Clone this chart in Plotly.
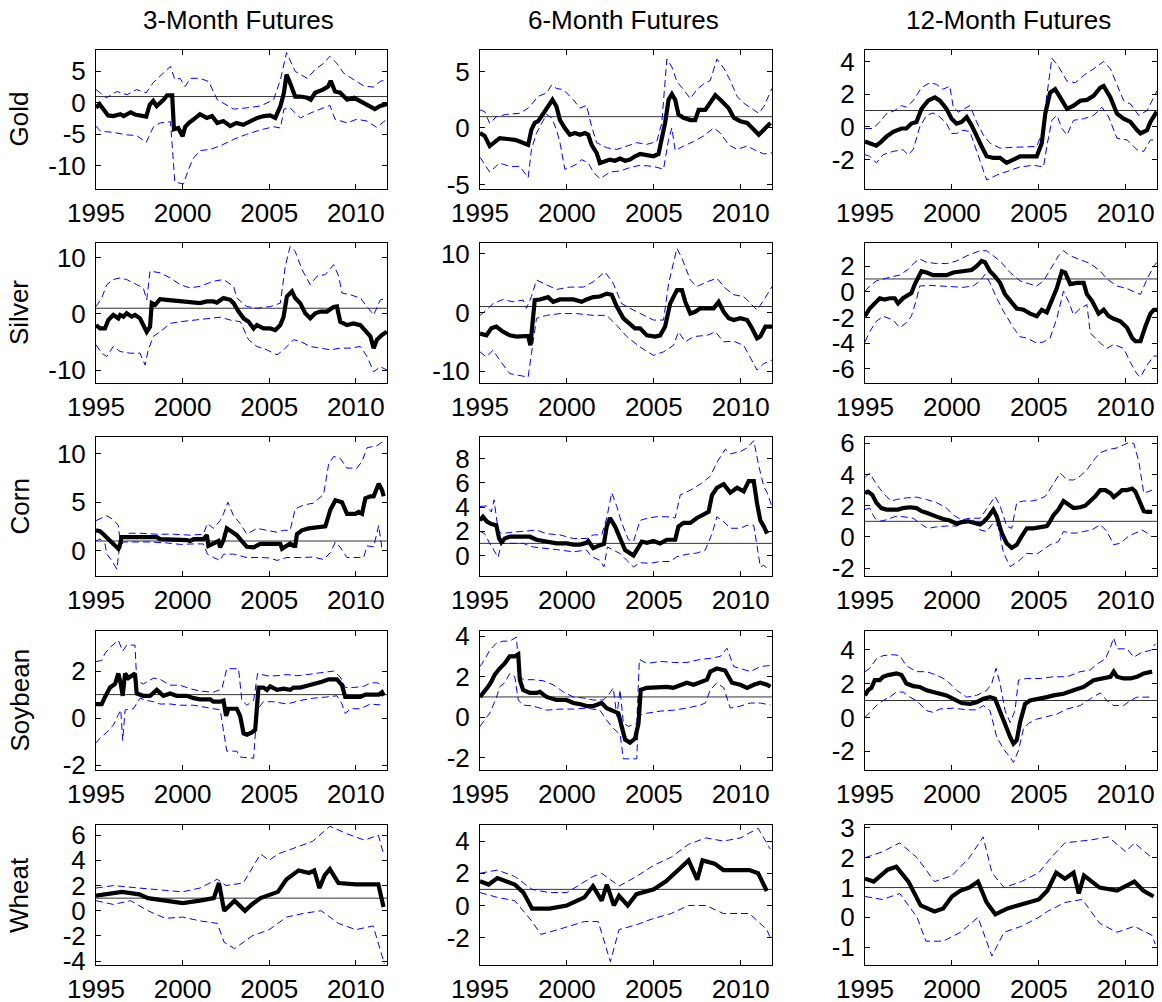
import plotly.graph_objects as go

X_RANGE = [1995, 2011.8]
X_TICKS = [1995, 2000, 2005, 2010]
REF_LEVEL = 1.0
COLUMNS = ["3-Month Futures", "6-Month Futures", "12-Month Futures"]
ROWS = ["Gold", "Silver", "Corn", "Soybean", "Wheat"]

# ---------------- Gold ----------------
GOLD_3M_EST = [(1995.0,-0.8),(1995.2,-0.2),(1995.7,-2.0),(1996.0,-2.1),(1996.4,-1.8),(1996.6,-2.1),(1997.0,-1.5),(1997.3,-1.9),(1997.9,-2.2),(1998.1,-0.3),(1998.3,0.3),(1998.5,-0.5),(1998.9,0.5),(1999.1,1.2),(1999.4,1.2),(1999.5,-4.2),(1999.75,-4.0),(2000.0,-5.3),(2000.15,-3.8),(2000.35,-3.2),(2000.6,-2.7),(2001.0,-1.8),(2001.4,-2.4),(2001.7,-2.1),(2002.0,-3.2),(2002.35,-2.9),(2002.75,-3.7),(2003.1,-3.2),(2003.5,-3.5),(2003.9,-3.0),(2004.3,-2.4),(2004.7,-2.1),(2005.05,-2.0),(2005.35,-2.4),(2005.65,-0.5),(2005.85,1.6),(2006.0,4.5),(2006.2,3.2),(2006.5,1.0),(2006.8,1.0),(2007.2,0.8),(2007.4,0.5),(2007.65,1.6),(2008.1,2.1),(2008.4,2.6),(2008.55,3.5),(2008.8,1.8),(2009.1,1.6),(2009.5,0.5),(2009.9,0.8),(2010.25,0.3),(2010.65,-0.3),(2011.1,-1.0),(2011.4,-0.5),(2011.8,-0.2)]
GOLD_3M_HI = [(1995.0,2.1),(1995.6,0.8),(1996.2,1.8),(1996.8,1.3),(1997.35,2.1),(1997.9,1.6),(1998.3,3.2),(1998.9,4.7),(1999.3,5.8),(1999.55,3.7),(1999.85,3.9),(2000.15,2.6),(2000.45,3.9),(2001.0,3.9),(2001.5,3.4),(2002.0,0.5),(2002.55,-0.3),(2002.95,-1.0),(2003.7,-0.8),(2004.5,-0.5),(2005.25,0.5),(2005.65,3.7),(2006.0,8.0),(2006.3,6.3),(2006.5,5.0),(2006.8,4.5),(2007.2,3.9),(2007.65,5.3),(2008.15,6.3),(2008.5,7.4),(2008.9,6.3),(2009.3,4.7),(2009.9,3.7),(2010.45,2.7),(2011.0,2.5),(2011.4,3.4),(2011.8,3.7)]
GOLD_3M_LO = [(1995.0,-3.7),(1995.25,-4.5),(1996.0,-4.7),(1996.8,-5.1),(1997.35,-5.2),(1997.9,-6.3),(1998.3,-3.9),(1998.7,-3.2),(1999.3,-3.0),(1999.45,-8.4),(1999.55,-12.6),(2000.05,-12.9),(2000.35,-10.5),(2000.6,-8.9),(2001.0,-7.6),(2001.6,-7.4),(2002.2,-6.8),(2002.95,-5.8),(2003.7,-5.0),(2004.5,-4.3),(2005.25,-3.8),(2005.65,-4.0),(2005.85,-1.0),(2006.2,-0.8),(2006.5,-1.6),(2006.8,-2.4),(2007.4,-1.6),(2007.95,-1.0),(2008.5,-0.4),(2008.8,-2.6),(2009.5,-3.2),(2010.05,-2.6),(2010.65,-2.9),(2011.2,-3.9),(2011.8,-2.6)]

GOLD_6M_EST = [(1995.0,-0.45),(1995.27,-0.7),(1995.56,-1.6),(1995.85,-1.3),(1996.13,-0.9),(1996.71,-1.0),(1997.0,-1.05),(1997.29,-1.2),(1997.77,-1.5),(1997.96,-0.15),(1998.15,0.45),(1998.35,0.6),(1998.63,1.3),(1998.92,1.9),(1999.17,2.5),(1999.4,1.9),(1999.6,0.7),(1999.88,0.0),(2000.17,-0.6),(2000.46,-0.45),(2000.75,-0.6),(2001.04,-0.45),(2001.23,-0.6),(2001.42,-1.5),(2001.71,-2.2),(2001.9,-3.1),(2002.19,-2.9),(2002.48,-2.8),(2002.77,-2.9),(2003.06,-2.7),(2003.35,-2.9),(2003.63,-2.8),(2003.92,-2.5),(2004.21,-2.3),(2004.6,-2.4),(2004.98,-2.5),(2005.27,-2.3),(2005.46,-1.0),(2005.65,0.45),(2005.85,2.5),(2006.04,3.0),(2006.23,2.5),(2006.42,1.2),(2006.71,0.9),(2007.1,0.7),(2007.38,0.7),(2007.58,1.6),(2007.96,1.6),(2008.25,2.2),(2008.54,2.9),(2008.83,2.5),(2009.31,1.75),(2009.6,0.9),(2009.98,0.6),(2010.37,0.45),(2010.75,-0.15),(2011.04,-0.6),(2011.33,-0.15),(2011.71,0.45)]
GOLD_6M_HI = [(1995.0,1.6),(1995.27,1.45),(1995.56,0.4),(1995.94,1.0),(1996.52,1.2),(1997.29,1.3),(1997.77,1.75),(1998.35,2.8),(1998.83,3.1),(1999.12,3.8),(1999.4,3.5),(1999.79,3.4),(2000.37,2.5),(2000.75,1.75),(2001.13,2.0),(2001.42,0.15),(2001.71,-1.3),(2002.29,-1.75),(2002.87,-1.9),(2003.44,-1.6),(2004.02,-1.3),(2004.6,-1.45),(2005.17,-1.2),(2005.46,0.45),(2005.75,6.1),(2006.04,5.4),(2006.33,4.1),(2006.71,3.4),(2007.1,2.6),(2007.48,3.4),(2007.87,3.9),(2008.25,4.2),(2008.63,6.1),(2009.02,5.3),(2009.4,4.2),(2009.79,2.8),(2010.17,2.2),(2010.75,1.6),(2011.04,1.3),(2011.33,1.9),(2011.8,3.5)]
GOLD_6M_LO = [(1995.0,-2.6),(1995.56,-3.9),(1996.13,-3.1),(1996.71,-3.4),(1997.29,-3.4),(1997.77,-4.4),(1997.96,-1.9),(1998.25,-0.45),(1998.83,1.2),(1999.12,0.9),(1999.4,-0.15),(1999.6,-1.3),(1999.88,-3.65),(2000.17,-3.5),(2000.56,-3.2),(2000.85,-2.8),(2001.23,-3.1),(2001.52,-3.9),(2001.9,-4.5),(2002.48,-3.9),(2003.06,-3.8),(2003.63,-3.5),(2004.21,-3.3),(2004.98,-3.4),(2005.56,-3.65),(2005.85,-1.0),(2006.04,0.0),(2006.23,-2.0),(2006.71,-1.6),(2007.29,-1.2),(2007.87,-0.7),(2008.44,0.0),(2008.83,-0.45),(2009.31,-1.5),(2009.79,-1.9),(2010.37,-1.6),(2010.75,-1.9),(2011.33,-2.3),(2011.8,-2.2)]

GOLD_12M_EST = [(1995.0,-0.9),(1995.27,-1.0),(1995.65,-1.15),(1995.94,-0.9),(1996.23,-0.6),(1996.62,-0.3),(1997.1,-0.1),(1997.38,-0.1),(1997.67,0.2),(1997.96,0.3),(1998.25,1.1),(1998.63,1.6),(1999.02,1.8),(1999.31,1.6),(1999.69,1.1),(1999.98,0.5),(2000.27,0.2),(2000.56,0.3),(2000.85,0.6),(2001.13,0.1),(2001.42,-0.6),(2001.71,-1.2),(2002.0,-1.8),(2002.38,-1.9),(2002.77,-1.9),(2003.15,-2.2),(2003.54,-2.0),(2003.92,-1.8),(2004.31,-1.8),(2004.88,-1.8),(2005.17,-1.0),(2005.37,0.8),(2005.65,2.1),(2005.94,2.3),(2006.23,1.8),(2006.62,1.1),(2007.0,1.3),(2007.38,1.6),(2007.77,1.65),(2008.15,1.9),(2008.54,2.4),(2008.73,2.5),(2009.12,1.8),(2009.5,0.8),(2009.88,0.5),(2010.27,0.3),(2010.65,-0.2),(2010.85,-0.4),(2011.23,-0.2),(2011.42,0.3),(2011.71,0.8),(2011.8,0.7)]
GOLD_12M_HI = [(1995.0,-0.1),(1995.46,-0.1),(1995.85,0.3),(1996.23,0.8),(1996.71,1.0),(1997.1,1.3),(1997.38,1.2),(1997.77,1.6),(1998.25,2.4),(1998.73,2.7),(1999.12,2.6),(1999.5,2.3),(1999.88,2.5),(2000.08,1.2),(2000.37,0.9),(2000.75,1.1),(2001.04,1.3),(2001.42,0.3),(2001.81,-0.5),(2002.19,-1.0),(2002.77,-1.3),(2003.54,-1.25),(2004.31,-1.2),(2004.88,-1.2),(2005.17,-0.4),(2005.46,2.0),(2005.75,4.2),(2006.13,3.7),(2006.62,2.8),(2007.1,2.7),(2007.58,3.15),(2008.15,3.55),(2008.73,4.0),(2009.12,3.55),(2009.5,2.6),(2009.88,1.6),(2010.27,1.4),(2010.75,0.7),(2011.23,1.0),(2011.8,2.2)]
GOLD_12M_LO = [(1995.0,-1.7),(1995.27,-1.8),(1995.65,-2.2),(1996.04,-1.7),(1996.62,-1.5),(1997.19,-1.4),(1997.48,-1.7),(1997.77,-1.4),(1998.15,0.0),(1998.54,0.7),(1998.92,0.85),(1999.31,0.6),(1999.69,0.2),(1999.98,-0.4),(2000.27,-0.4),(2000.65,-0.2),(2001.04,-0.3),(2001.33,-1.2),(2001.62,-2.2),(2002.0,-3.25),(2002.58,-2.95),(2003.15,-2.75),(2003.92,-2.45),(2004.69,-2.35),(2005.27,-2.45),(2005.46,-1.2),(2005.75,0.4),(2006.04,0.7),(2006.33,-0.1),(2006.62,-0.5),(2007.0,0.4),(2007.58,0.5),(2008.15,0.7),(2008.63,1.2),(2009.02,0.6),(2009.5,-0.7),(2010.08,-0.8),(2010.65,-1.4),(2011.04,-1.5),(2011.42,-0.8),(2011.8,-0.8)]

# ---------------- Silver ----------------
SILVER_3M_EST = [(1995.0,-2.0),(1995.23,-2.6),(1995.52,-2.6),(1995.71,-1.1),(1996.0,-0.2),(1996.29,-0.8),(1996.39,-0.2),(1996.58,-0.5),(1996.77,0.1),(1997.06,-0.5),(1997.25,-0.2),(1997.54,-0.8),(1997.83,-2.6),(1997.93,-3.2),(1998.12,-2.3),(1998.22,1.9),(1998.41,1.6),(1998.7,2.6),(1999.08,2.5),(1999.66,2.3),(2000.05,2.2),(2000.63,1.9),(2001.01,1.9),(2001.4,2.2),(2001.78,2.2),(2001.98,2.0),(2002.36,2.8),(2002.75,2.5),(2002.94,1.9),(2003.23,0.4),(2003.52,-0.8),(2003.81,-1.4),(2004.1,-2.6),(2004.29,-2.0),(2004.67,-2.6),(2005.06,-2.6),(2005.35,-2.9),(2005.64,-2.0),(2005.83,-0.5),(2006.02,3.1),(2006.31,4.0),(2006.5,2.8),(2006.79,1.9),(2007.08,0.1),(2007.37,-0.8),(2007.66,0.1),(2007.95,0.4),(2008.33,0.4),(2008.72,1.2),(2008.91,1.3),(2009.1,-1.4),(2009.49,-2.0),(2009.87,-1.7),(2010.26,-2.0),(2010.65,-3.2),(2010.84,-4.0),(2011.03,-6.1),(2011.22,-4.6),(2011.51,-3.75),(2011.8,-3.2)]
SILVER_3M_HI = [(1995.0,1.3),(1995.33,2.8),(1995.62,5.2),(1996.0,6.1),(1996.39,6.4),(1996.77,6.1),(1997.35,5.2),(1997.73,4.6),(1997.93,2.5),(1998.12,7.6),(1998.7,7.3),(1999.28,6.4),(1999.86,5.2),(2000.43,4.6),(2001.01,4.9),(2001.78,5.8),(2002.36,6.1),(2002.94,4.9),(2003.13,2.8),(2003.71,1.3),(2004.29,1.0),(2005.06,1.3),(2005.64,1.9),(2005.93,8.5),(2006.21,12.0),(2006.5,11.1),(2006.89,7.9),(2007.37,5.2),(2007.76,6.7),(2008.24,7.0),(2008.72,8.75),(2009.01,6.7),(2009.2,3.7),(2009.68,3.4),(2010.26,2.8),(2010.65,1.3),(2011.03,-0.2),(2011.42,2.5),(2011.8,2.8)]
SILVER_3M_LO = [(1995.0,-5.5),(1995.33,-7.0),(1995.62,-7.6),(1996.0,-5.8),(1996.39,-6.7),(1996.97,-7.0),(1997.54,-7.0),(1997.83,-9.1),(1998.02,-6.4),(1998.31,-4.0),(1998.7,-3.2),(1999.28,-1.7),(1999.86,-1.4),(2000.63,-1.1),(2001.4,-0.8),(2002.17,-0.6),(2002.75,-1.1),(2003.33,-1.4),(2003.81,-4.6),(2004.29,-5.8),(2004.87,-6.4),(2005.45,-7.3),(2005.83,-6.4),(2006.21,-5.2),(2006.41,-4.6),(2006.79,-4.9),(2007.37,-5.8),(2007.95,-6.1),(2008.53,-6.4),(2009.1,-6.1),(2009.68,-6.1),(2010.26,-5.8),(2010.65,-7.6),(2011.03,-10.3),(2011.42,-9.4),(2011.8,-10.0)]

SILVER_6M_EST = [(1995.0,-3.6),(1995.37,-3.9),(1995.65,-2.7),(1995.94,-2.4),(1996.33,-3.3),(1996.71,-3.9),(1997.1,-4.1),(1997.48,-4.1),(1997.77,-4.0),(1997.9,-5.6),(1998.02,-2.2),(1998.15,2.1),(1998.44,2.2),(1998.92,2.6),(1999.21,1.8),(1999.6,2.2),(2000.37,2.2),(2000.85,1.8),(2001.13,2.2),(2001.52,2.6),(2001.9,2.7),(2002.29,3.2),(2002.58,3.0),(2002.87,1.0),(2003.25,-1.0),(2003.63,-1.9),(2003.92,-2.7),(2004.21,-2.7),(2004.6,-3.9),(2005.08,-4.1),(2005.37,-3.9),(2005.65,-2.4),(2005.94,1.5),(2006.33,3.8),(2006.62,3.8),(2006.81,1.8),(2007.1,-0.2),(2007.38,0.1),(2007.67,0.7),(2008.06,0.7),(2008.44,0.7),(2008.73,1.8),(2009.02,0.1),(2009.31,-1.0),(2009.6,-1.3),(2009.98,-1.0),(2010.37,-1.3),(2010.65,-2.7),(2010.94,-4.4),(2011.13,-4.1),(2011.42,-2.4),(2011.8,-2.4)]
SILVER_6M_HI = [(1995.0,-0.5),(1995.37,0.4),(1995.75,1.5),(1996.33,2.2),(1996.9,1.8),(1997.48,2.1),(1997.67,0.7),(1997.96,2.7),(1998.25,5.5),(1998.83,4.7),(1999.4,3.9),(2000.17,4.3),(2000.94,4.3),(2001.52,5.2),(2002.19,6.9),(2002.67,4.9),(2003.15,1.5),(2003.63,0.7),(2004.21,-0.2),(2004.98,-1.3),(2005.56,-1.3),(2005.85,4.9),(2006.33,10.9),(2006.62,9.2),(2007.1,5.5),(2007.48,4.4),(2008.06,5.2),(2008.63,5.8),(2009.12,4.1),(2009.6,3.0),(2010.17,2.7),(2010.56,1.5),(2010.94,0.4),(2011.33,2.1),(2011.8,4.4)]
SILVER_6M_LO = [(1995.0,-6.7),(1995.37,-7.6),(1995.75,-6.4),(1996.13,-8.1),(1996.71,-10.4),(1997.29,-10.7),(1997.77,-11.0),(1997.96,-7.0),(1998.25,-1.0),(1998.83,-0.5),(1999.6,-0.2),(2000.56,-0.2),(2001.52,-0.5),(2002.29,-0.5),(2002.87,-2.2),(2003.44,-4.1),(2004.21,-5.9),(2004.98,-7.3),(2005.56,-6.7),(2006.13,-5.6),(2006.42,-3.3),(2006.81,-5.0),(2007.29,-4.1),(2008.06,-3.9),(2008.54,-3.3),(2009.02,-5.0),(2009.6,-4.9),(2010.17,-5.6),(2010.75,-8.7),(2010.94,-9.8),(2011.33,-8.7),(2011.8,-8.1)]

SILVER_12M_EST = [(1995.0,-1.9),(1995.27,-1.3),(1995.56,-0.9),(1995.85,-0.5),(1996.13,-0.6),(1996.42,-0.5),(1996.71,-0.5),(1996.9,-0.9),(1997.19,-0.5),(1997.48,-0.3),(1997.67,-0.1),(1997.87,0.6),(1998.06,1.2),(1998.25,1.6),(1998.54,1.5),(1998.92,1.3),(1999.31,1.3),(1999.69,1.3),(2000.08,1.5),(2000.65,1.6),(2001.13,1.7),(2001.42,2.0),(2001.71,2.4),(2001.9,2.3),(2002.19,1.6),(2002.48,1.2),(2002.77,0.7),(2003.06,-0.2),(2003.35,-0.7),(2003.73,-1.3),(2004.12,-1.4),(2004.5,-1.7),(2004.88,-1.9),(2005.17,-1.4),(2005.46,-1.6),(2005.75,-0.7),(2006.04,0.3),(2006.33,1.6),(2006.52,1.5),(2006.81,0.6),(2007.19,0.7),(2007.58,0.7),(2007.77,-0.2),(2008.06,-0.7),(2008.44,-1.7),(2008.73,-1.4),(2009.02,-1.9),(2009.31,-2.1),(2009.69,-2.3),(2010.08,-2.8),(2010.37,-3.6),(2010.56,-3.85),(2010.85,-3.85),(2011.13,-2.7),(2011.42,-1.7),(2011.62,-1.4),(2011.8,-1.4)]
SILVER_12M_HI = [(1995.0,0.05),(1995.27,0.45),(1995.65,0.85),(1996.04,1.0),(1996.62,1.2),(1997.0,1.3),(1997.48,1.75),(1997.87,2.3),(1998.15,2.55),(1998.54,2.3),(1999.12,2.2),(1999.69,2.2),(2000.27,2.4),(2000.85,2.8),(2001.62,3.2),(2002.0,3.2),(2002.38,2.8),(2002.77,2.4),(2003.35,1.5),(2003.92,0.85),(2004.5,0.6),(2004.88,0.45),(2005.27,0.85),(2005.75,1.9),(2006.13,2.8),(2006.42,3.2),(2006.81,2.8),(2007.38,2.5),(2007.96,2.2),(2008.54,1.6),(2008.92,1.0),(2009.5,0.45),(2010.08,0.25),(2010.65,-0.1),(2010.85,-0.2),(2011.23,1.0),(2011.62,2.0),(2011.8,2.3)]
SILVER_12M_LO = [(1995.0,-3.9),(1995.27,-3.1),(1995.65,-2.3),(1996.04,-1.9),(1996.62,-2.2),(1997.0,-2.8),(1997.38,-2.4),(1997.67,-1.9),(1997.96,-0.6),(1998.15,0.45),(1998.73,0.5),(1999.69,0.45),(2000.65,0.35),(2001.23,0.45),(2001.62,0.85),(2001.9,1.35),(2002.19,0.7),(2002.58,-0.5),(2002.96,-1.5),(2003.54,-2.8),(2003.92,-3.5),(2004.31,-3.6),(2004.69,-3.9),(2004.88,-4.0),(2005.27,-3.9),(2005.65,-3.6),(2006.04,-2.05),(2006.42,0.05),(2006.71,-0.75),(2007.0,-1.8),(2007.38,-1.3),(2007.77,-1.0),(2007.96,-3.2),(2008.54,-4.0),(2008.92,-4.4),(2009.31,-4.1),(2009.88,-4.4),(2010.27,-5.5),(2010.65,-6.4),(2010.85,-6.65),(2011.23,-5.7),(2011.62,-5.0),(2011.8,-5.0)]

# ---------------- Corn ----------------
CORN_3M_EST = [(1995.0,2.1),(1995.23,2.0),(1995.43,1.7),(1995.71,1.2),(1995.91,0.9),(1996.1,0.5),(1996.29,0.2),(1996.35,0.35),(1996.48,1.4),(1996.77,1.4),(1997.54,1.4),(1998.51,1.4),(1998.7,1.2),(1999.47,1.2),(2000.24,1.1),(2000.43,1.0),(2000.63,1.2),(2001.2,1.2),(2001.4,1.6),(2001.49,0.5),(2001.78,0.7),(2002.07,1.0),(2002.17,0.35),(2002.36,1.1),(2002.55,2.3),(2002.84,1.9),(2003.13,1.6),(2003.42,1.0),(2003.71,0.4),(2004.1,0.35),(2004.48,0.7),(2005.06,0.7),(2005.64,0.7),(2005.74,0.2),(2006.02,0.6),(2006.21,0.75),(2006.41,0.5),(2006.5,0.5),(2006.6,1.7),(2006.89,2.1),(2007.27,2.3),(2007.76,2.4),(2008.24,2.5),(2008.53,4.2),(2008.82,5.2),(2009.2,5.0),(2009.49,3.8),(2009.97,3.8),(2010.16,4.0),(2010.36,3.8),(2010.55,5.4),(2010.84,5.6),(2011.03,5.6),(2011.32,6.9),(2011.51,6.25),(2011.61,5.6)]
CORN_3M_HI = [(1995.0,3.1),(1995.23,3.3),(1995.62,3.6),(1996.0,3.2),(1996.29,2.6),(1996.39,1.0),(1996.77,1.8),(1997.54,1.8),(1998.51,1.7),(1999.47,1.7),(2000.43,1.6),(2001.2,1.7),(2001.43,2.8),(2001.78,2.3),(2002.17,3.1),(2002.36,3.8),(2002.61,5.0),(2002.94,3.6),(2003.32,2.8),(2003.71,1.7),(2004.29,2.3),(2004.87,2.1),(2005.45,1.9),(2005.83,2.1),(2006.21,2.1),(2006.5,4.3),(2006.98,4.7),(2007.56,4.9),(2008.14,5.8),(2008.43,8.9),(2008.72,9.7),(2009.1,9.5),(2009.49,8.5),(2010.07,8.5),(2010.36,9.2),(2010.65,10.6),(2011.22,10.8),(2011.61,11.3)]
CORN_3M_LO = [(1995.0,1.0),(1995.23,1.2),(1995.52,0.7),(1995.62,-0.35),(1995.91,-1.0),(1996.2,-1.9),(1996.35,0.2),(1996.58,0.9),(1997.16,0.9),(1998.12,0.9),(1999.08,0.8),(1999.86,0.65),(2000.63,0.7),(2001.2,0.7),(2001.43,-0.35),(2001.78,-0.7),(2002.17,-1.0),(2002.36,-0.35),(2002.94,-0.35),(2003.71,-0.7),(2004.48,-0.7),(2005.06,-0.75),(2005.45,-1.0),(2006.02,-0.7),(2006.79,-0.7),(2007.56,-0.65),(2008.14,-0.9),(2008.53,-0.2),(2008.82,0.9),(2009.1,0.35),(2009.49,-0.7),(2010.07,-0.7),(2010.45,-0.7),(2010.65,0.5),(2011.03,0.4),(2011.32,2.6),(2011.51,0.2),(2011.61,0.0)]

CORN_6M_EST = [(1995.0,2.9),(1995.17,3.2),(1995.4,2.8),(1995.65,2.6),(1995.94,2.5),(1996.1,1.4),(1996.23,1.1),(1996.42,1.4),(1996.71,1.55),(1997.29,1.55),(1997.87,1.55),(1998.25,1.3),(1998.83,1.15),(1999.4,1.0),(1999.98,1.0),(2000.37,0.9),(2000.75,0.9),(2001.13,1.05),(2001.23,1.2),(2001.52,0.6),(2001.9,0.85),(2002.13,0.95),(2002.29,2.4),(2002.48,3.1),(2002.77,2.4),(2003.06,1.4),(2003.35,0.45),(2003.83,0.0),(2004.02,0.45),(2004.31,1.15),(2004.6,1.05),(2004.98,1.2),(2005.37,1.0),(2005.75,1.3),(2006.23,1.3),(2006.42,2.4),(2006.71,2.7),(2007.1,2.7),(2007.48,3.1),(2007.87,3.35),(2008.15,3.6),(2008.35,5.0),(2008.63,5.6),(2009.02,5.9),(2009.4,5.2),(2009.79,5.6),(2010.17,5.3),(2010.46,6.15),(2010.75,6.15),(2010.94,4.3),(2011.13,2.9),(2011.33,2.4),(2011.52,1.8)]
CORN_6M_HI = [(1995.0,4.05),(1995.37,4.1),(1995.65,3.6),(1995.81,4.6),(1996.04,2.1),(1996.23,1.8),(1996.71,1.9),(1997.67,2.05),(1998.25,2.1),(1998.83,1.8),(1999.6,1.7),(2000.37,1.4),(2001.13,1.4),(2001.52,1.7),(2002.0,1.7),(2002.29,3.1),(2002.58,5.2),(2002.87,4.05),(2003.15,2.7),(2003.54,1.3),(2003.83,1.15),(2004.21,2.9),(2004.69,3.1),(2005.17,3.2),(2005.75,3.2),(2006.23,3.1),(2006.52,5.0),(2007.1,5.4),(2007.67,5.9),(2008.25,6.55),(2008.63,7.7),(2009.12,8.8),(2009.4,8.4),(2009.98,8.6),(2010.37,8.9),(2010.75,9.5),(2011.04,7.4),(2011.33,5.7),(2011.52,5.2),(2011.8,4.05)]
CORN_6M_LO = [(1995.0,2.0),(1995.27,1.8),(1995.56,1.0),(1995.81,0.45),(1996.04,-0.15),(1996.23,1.0),(1996.52,1.0),(1997.48,1.0),(1998.06,0.7),(1998.83,0.6),(1999.6,0.45),(2000.37,0.3),(2001.13,0.45),(2001.42,-0.1),(2001.9,-0.4),(2002.13,-0.95),(2002.33,0.7),(2002.67,0.45),(2003.06,0.15),(2003.44,-0.4),(2003.83,-0.95),(2004.21,-0.6),(2004.79,-0.65),(2005.37,-0.5),(2005.94,-0.5),(2006.33,-0.1),(2006.9,0.1),(2007.48,0.2),(2007.96,0.45),(2008.35,1.8),(2008.63,3.2),(2009.02,2.8),(2009.4,2.25),(2009.98,2.25),(2010.37,2.5),(2010.75,2.5),(2010.94,0.7),(2011.13,-0.95),(2011.33,-0.8),(2011.52,-1.1)]

CORN_12M_EST = [(1995.0,2.8),(1995.17,2.9),(1995.42,2.7),(1995.65,2.2),(1995.94,1.85),(1996.23,1.75),(1996.62,1.75),(1996.9,1.75),(1997.19,1.85),(1997.58,1.9),(1997.96,1.85),(1998.25,1.65),(1998.54,1.55),(1998.83,1.4),(1999.12,1.3),(1999.5,1.15),(1999.88,1.05),(2000.27,0.85),(2000.56,0.95),(2000.94,1.0),(2001.33,0.9),(2001.62,0.8),(2001.81,0.95),(2002.1,1.3),(2002.38,1.75),(2002.58,1.3),(2002.87,0.25),(2003.15,-0.4),(2003.44,-0.7),(2003.73,-0.5),(2004.02,0.05),(2004.31,0.55),(2004.69,0.55),(2005.08,0.65),(2005.46,0.7),(2005.65,1.0),(2005.85,1.4),(2006.13,1.75),(2006.42,2.3),(2006.81,2.0),(2007.0,1.85),(2007.38,1.9),(2007.67,2.0),(2007.96,2.3),(2008.25,2.6),(2008.54,3.0),(2008.83,3.0),(2009.12,2.8),(2009.31,2.55),(2009.6,2.8),(2009.79,3.0),(2010.08,3.0),(2010.37,3.1),(2010.56,2.9),(2010.75,2.4),(2011.04,1.65),(2011.23,1.6),(2011.52,1.6)]
CORN_12M_HI = [(1995.0,3.8),(1995.27,4.1),(1995.56,3.55),(1995.85,3.1),(1996.23,2.6),(1996.52,2.3),(1996.81,2.4),(1997.38,2.5),(1997.96,2.55),(1998.54,2.4),(1999.12,2.2),(1999.69,1.85),(2000.08,1.4),(2000.56,1.1),(2001.04,1.2),(2001.62,1.2),(2002.1,1.95),(2002.48,2.6),(2002.77,2.0),(2003.15,0.7),(2003.44,0.55),(2003.73,2.2),(2004.12,2.3),(2004.6,2.3),(2004.98,2.4),(2005.37,2.6),(2005.75,3.25),(2006.23,4.1),(2006.62,3.65),(2007.0,3.65),(2007.38,3.9),(2007.77,4.3),(2008.25,5.05),(2008.54,5.4),(2009.02,5.6),(2009.5,5.7),(2010.08,6.0),(2010.46,6.0),(2010.75,4.85),(2011.04,2.8),(2011.52,3.0)]
CORN_12M_LO = [(1995.0,1.75),(1995.27,1.85),(1995.56,1.2),(1995.85,1.0),(1996.23,1.1),(1996.71,1.3),(1997.19,1.3),(1997.77,1.2),(1998.25,0.8),(1998.63,0.55),(1999.12,0.65),(1999.69,0.7),(2000.27,0.7),(2000.85,1.0),(2001.23,1.1),(2001.62,0.45),(2002.0,0.35),(2002.38,0.9),(2002.67,0.7),(2002.96,-1.0),(2003.35,-1.9),(2003.83,-1.55),(2004.31,-1.05),(2004.88,-1.1),(2005.27,-0.8),(2005.65,-0.5),(2006.13,-0.3),(2006.42,0.35),(2006.81,0.25),(2007.19,0.25),(2007.58,0.35),(2008.06,0.45),(2008.54,0.8),(2008.92,0.35),(2009.31,-0.5),(2009.69,-0.4),(2010.17,0.05),(2010.56,0.25),(2010.94,0.45),(2011.23,0.25),(2011.52,0.0)]

# ---------------- Soybean ----------------
SOY_3M_EST = [(1995.0,0.6),(1995.33,0.6),(1995.52,0.9),(1995.81,1.3),(1996.1,1.45),(1996.29,1.9),(1996.43,1.45),(1996.54,0.95),(1996.68,1.9),(1996.87,1.7),(1997.06,1.8),(1997.25,1.9),(1997.35,1.05),(1997.73,0.95),(1998.12,0.95),(1998.51,1.2),(1998.89,0.95),(1999.28,1.05),(1999.66,0.95),(2000.24,0.95),(2000.63,0.85),(2001.01,0.8),(2001.59,0.8),(2001.78,0.7),(2002.17,0.7),(2002.36,0.75),(2002.51,0.1),(2002.65,0.4),(2003.13,0.4),(2003.32,0.1),(2003.52,-0.65),(2003.71,-0.7),(2004.0,-0.6),(2004.19,-0.5),(2004.38,1.3),(2004.67,1.3),(2004.87,1.2),(2005.06,1.35),(2005.45,1.2),(2005.83,1.25),(2006.21,1.2),(2006.41,1.3),(2006.79,1.3),(2007.18,1.4),(2007.56,1.45),(2008.05,1.55),(2008.43,1.65),(2008.91,1.65),(2009.2,1.4),(2009.39,0.9),(2009.87,0.9),(2010.26,0.9),(2010.55,1.0),(2011.03,1.0),(2011.32,1.0),(2011.51,1.1),(2011.61,0.95)]
SOY_3M_HI = [(1995.0,2.4),(1995.33,2.45),(1995.52,2.75),(1995.81,3.0),(1996.29,3.3),(1996.54,2.85),(1996.77,3.1),(1997.25,3.1),(1997.35,1.6),(1997.73,1.45),(1998.31,1.7),(1998.7,1.65),(1999.28,1.4),(1999.86,1.4),(2000.43,1.25),(2001.01,1.15),(2001.78,1.1),(2002.27,1.25),(2002.55,2.1),(2003.23,2.1),(2003.42,0.75),(2003.71,0.55),(2004.1,0.75),(2004.33,1.9),(2004.87,1.8),(2005.45,1.8),(2006.02,1.85),(2006.6,1.8),(2007.18,1.85),(2007.76,1.9),(2008.33,1.95),(2008.72,2.0),(2009.1,1.75),(2009.39,1.3),(2009.87,1.3),(2010.45,1.35),(2010.84,1.5),(2011.22,1.5),(2011.61,1.4)]
SOY_3M_LO = [(1995.0,-1.05),(1995.23,-0.85),(1995.62,-0.6),(1996.0,-0.3),(1996.29,0.15),(1996.43,0.35),(1996.54,-0.95),(1996.68,0.35),(1997.16,0.4),(1997.54,0.85),(1997.93,0.75),(1998.31,0.7),(1998.7,0.6),(1999.28,0.6),(1999.86,0.55),(2000.63,0.55),(2001.4,0.45),(2002.17,0.35),(2002.55,-1.4),(2003.13,-1.4),(2003.32,-1.65),(2004.1,-1.7),(2004.29,0.35),(2004.67,0.7),(2005.25,0.7),(2006.02,0.6),(2006.79,0.75),(2007.56,0.85),(2008.33,0.9),(2008.91,0.95),(2009.2,0.6),(2009.39,0.2),(2009.68,0.4),(2010.26,0.4),(2010.84,0.6),(2011.61,0.55)]

SOY_6M_EST = [(1995.0,1.0),(1995.27,1.25),(1995.46,1.5),(1995.65,1.75),(1995.85,2.1),(1996.13,2.4),(1996.42,2.65),(1996.71,3.0),(1997.0,3.0),(1997.2,3.1),(1997.29,1.85),(1997.48,1.35),(1997.87,1.2),(1998.25,1.2),(1998.44,1.25),(1998.83,1.0),(1999.4,0.85),(1999.98,0.85),(2000.37,0.7),(2000.75,0.65),(2001.13,0.55),(2001.52,0.55),(2002.0,0.7),(2002.29,0.45),(2002.67,0.3),(2002.96,0.2),(2003.15,-0.45),(2003.35,-1.1),(2003.63,-1.25),(2003.92,-1.05),(2004.12,-0.3),(2004.25,1.35),(2004.6,1.45),(2005.17,1.5),(2005.75,1.5),(2006.13,1.45),(2006.52,1.55),(2006.9,1.7),(2007.29,1.6),(2007.67,1.75),(2008.06,1.85),(2008.25,2.25),(2008.63,2.4),(2009.1,2.3),(2009.5,1.7),(2009.98,1.6),(2010.37,1.45),(2010.75,1.6),(2011.13,1.7),(2011.52,1.6),(2011.71,1.5)]
SOY_6M_HI = [(1995.0,2.5),(1995.27,2.85),(1995.56,3.3),(1995.94,3.65),(1996.33,3.75),(1996.71,3.75),(1997.1,3.95),(1997.25,2.1),(1997.48,1.85),(1998.06,1.85),(1998.63,1.8),(1999.21,1.6),(1999.79,1.25),(2000.37,1.0),(2000.94,0.95),(2001.52,0.85),(2002.1,0.85),(2002.48,1.2),(2002.67,1.45),(2002.87,0.05),(2003.06,1.35),(2003.25,-0.3),(2003.54,-0.45),(2004.02,-0.3),(2004.17,2.85),(2004.6,2.65),(2005.37,2.75),(2006.13,2.7),(2006.9,2.7),(2007.67,2.85),(2008.25,2.9),(2008.83,3.0),(2009.21,3.4),(2009.4,3.0),(2009.6,2.5),(2009.98,2.4),(2010.56,2.25),(2011.13,2.5),(2011.71,2.55)]
SOY_6M_LO = [(1995.0,-0.45),(1995.27,-0.15),(1995.56,0.2),(1995.94,0.95),(1996.13,1.5),(1996.42,1.7),(1996.71,2.15),(1997.0,2.0),(1997.2,0.85),(1997.48,0.6),(1998.06,0.55),(1998.83,0.35),(1999.6,0.4),(2000.37,0.4),(2001.13,0.45),(2001.9,0.35),(2002.29,-0.15),(2002.67,-0.55),(2003.06,-0.85),(2003.25,-2.05),(2004.02,-2.05),(2004.12,0.1),(2004.6,0.2),(2005.37,0.3),(2006.13,0.35),(2006.9,0.45),(2007.67,0.6),(2007.96,0.7),(2008.25,1.35),(2008.63,1.7),(2009.02,1.45),(2009.4,0.45),(2009.98,0.55),(2010.56,0.7),(2011.13,0.7),(2011.71,0.6)]

SOY_12M_EST = [(1995.0,1.3),(1995.17,1.6),(1995.37,1.75),(1995.56,2.2),(1995.85,2.2),(1996.04,2.4),(1996.33,2.5),(1996.62,2.6),(1996.81,2.6),(1997.1,2.5),(1997.38,2.0),(1997.77,1.85),(1998.15,1.8),(1998.54,1.6),(1998.92,1.5),(1999.31,1.4),(1999.69,1.3),(2000.08,1.1),(2000.56,0.85),(2001.04,0.8),(2001.42,0.9),(2001.81,1.1),(2002.19,1.2),(2002.48,1.1),(2002.77,0.3),(2003.06,-0.35),(2003.35,-1.15),(2003.54,-1.55),(2003.73,-1.35),(2003.92,-0.3),(2004.21,0.8),(2004.5,1.0),(2005.08,1.1),(2005.46,1.2),(2005.85,1.3),(2006.42,1.4),(2007.0,1.6),(2007.58,1.8),(2008.15,2.2),(2008.73,2.3),(2009.12,2.4),(2009.31,2.7),(2009.5,2.4),(2009.88,2.3),(2010.27,2.3),(2010.65,2.4),(2011.04,2.6),(2011.52,2.7)]
SOY_12M_HI = [(1995.0,2.7),(1995.27,2.9),(1995.65,3.45),(1996.04,3.65),(1996.62,3.7),(1997.0,3.65),(1997.38,3.05),(1997.96,2.7),(1998.54,2.7),(1999.12,2.5),(1999.69,2.2),(2000.27,1.6),(2000.85,1.2),(2001.42,1.3),(2002.0,1.6),(2002.29,2.0),(2002.54,2.9),(2002.77,2.0),(2003.06,0.4),(2003.35,-0.3),(2003.63,0.4),(2003.83,2.2),(2004.31,2.3),(2005.08,2.3),(2005.85,2.4),(2006.62,2.4),(2007.38,2.7),(2007.96,2.8),(2008.35,3.15),(2008.83,3.45),(2009.12,4.15),(2009.31,4.7),(2009.5,4.05),(2010.08,4.05),(2010.46,3.55),(2010.94,3.85),(2011.42,3.95),(2011.71,4.35)]
SOY_12M_LO = [(1995.0,0.0),(1995.27,0.3),(1995.65,0.7),(1996.04,1.0),(1996.42,1.2),(1996.81,1.5),(1997.19,1.5),(1997.58,1.2),(1997.96,1.0),(1998.54,0.4),(1998.92,0.3),(1999.31,0.5),(2000.08,0.55),(2000.85,0.45),(2001.42,0.45),(2001.81,0.7),(2002.19,0.4),(2002.58,-1.15),(2002.96,-1.85),(2003.35,-2.35),(2003.54,-2.65),(2003.83,-1.95),(2004.12,-0.65),(2004.41,-0.35),(2004.88,-0.1),(2005.46,0.05),(2006.04,0.2),(2006.62,0.5),(2007.38,0.7),(2007.96,1.1),(2008.54,1.45),(2008.92,1.0),(2009.31,0.7),(2009.88,0.7),(2010.27,1.0),(2010.65,1.2),(2011.04,1.2),(2011.42,1.2)]

# ---------------- Wheat ----------------
WHEAT_3M_EST = [(1995.0,1.2),(1995.5,1.3),(1996.5,1.5),(1997.0,1.4),(1997.5,1.3),(1998.0,1.0),(1999.0,0.8),(2000.0,0.6),(2001.0,0.8),(2001.8,1.0),(2002.1,2.2),(2002.4,0.0),(2003.0,0.8),(2003.6,0.0),(2004.0,0.5),(2004.5,1.0),(2005.5,1.5),(2006.0,2.5),(2006.7,3.2),(2007.3,3.0),(2007.6,3.2),(2007.9,1.8),(2008.2,2.8),(2008.5,3.3),(2009.0,2.2),(2010.0,2.1),(2011.3,2.1),(2011.6,0.3)]
WHEAT_3M_HI = [(1995.0,1.8),(1996.0,2.0),(1997.5,1.8),(1999.0,1.6),(2000.0,1.5),(2001.0,1.8),(2002.0,2.5),(2002.5,2.0),(2003.5,2.2),(2004.5,4.5),(2005.0,4.0),(2005.5,4.5),(2006.5,5.0),(2007.5,5.5),(2008.5,6.7),(2009.5,6.1),(2010.5,5.6),(2011.3,6.0),(2011.6,4.5)]
WHEAT_3M_LO = [(1995.0,0.8),(1996.0,0.5),(1997.0,0.8),(1998.0,0.0),(1999.0,-0.6),(2000.0,-0.5),(2001.0,-0.8),(2002.0,-1.0),(2002.4,-2.5),(2003.0,-3.0),(2003.5,-2.5),(2004.0,-2.0),(2005.0,-1.5),(2006.0,-0.5),(2007.0,-0.2),(2008.0,0.0),(2009.0,-1.0),(2010.0,-1.5),(2011.0,-1.2),(2011.65,-4.2)]

WHEAT_6M_EST = [(1995.0,1.5),(1995.5,1.3),(1996.0,1.7),(1997.0,1.3),(1997.5,0.8),(1998.0,-0.2),(1999.0,-0.2),(2000.0,0.0),(2001.0,0.5),(2001.5,1.2),(2002.0,0.3),(2002.3,1.3),(2002.7,0.0),(2003.0,0.6),(2003.5,0.0),(2004.0,0.7),(2005.0,1.0),(2005.7,1.5),(2006.5,2.3),(2007.0,2.8),(2007.5,1.6),(2007.8,2.8),(2008.5,2.6),(2009.0,2.2),(2010.5,2.2),(2011.0,2.0),(2011.5,0.9)]
WHEAT_6M_HI = [(1995.0,2.0),(1996.0,2.2),(1997.0,1.8),(1998.0,1.0),(1999.0,0.8),(2000.0,0.8),(2001.5,1.8),(2002.0,2.0),(2003.0,1.2),(2004.0,1.8),(2005.0,2.5),(2006.0,3.0),(2007.0,3.8),(2008.0,4.2),(2009.0,4.0),(2010.0,4.2),(2011.0,4.8),(2011.7,3.5)]
WHEAT_6M_LO = [(1995.0,0.8),(1996.0,0.5),(1997.0,0.3),(1998.0,-1.0),(1998.5,-1.8),(1999.5,-1.5),(2001.0,-1.0),(2001.8,-1.0),(2002.5,-3.5),(2003.0,-1.5),(2004.0,-1.2),(2005.0,-0.8),(2006.0,-0.5),(2007.0,0.0),(2008.0,0.0),(2009.0,-0.5),(2010.5,-0.5),(2011.5,-1.5),(2011.7,-2.0)]

WHEAT_12M_EST = [(1995.0,1.3),(1995.5,1.2),(1996.3,1.6),(1996.8,1.7),(1997.5,1.2),(1998.2,0.4),(1999.0,0.2),(1999.5,0.3),(2000.0,0.7),(2000.5,0.9),(2001.0,1.0),(2001.5,1.2),(2002.0,0.5),(2002.5,0.1),(2003.2,0.3),(2004.5,0.5),(2005.0,0.6),(2005.5,0.9),(2006.0,1.5),(2006.5,1.3),(2007.0,1.5),(2007.3,0.8),(2007.6,1.4),(2008.5,1.0),(2009.5,0.9),(2010.5,1.2),(2011.0,0.9),(2011.6,0.7)]
WHEAT_12M_HI = [(1995.0,2.0),(1996.0,2.2),(1997.0,2.5),(1998.0,2.0),(1999.0,1.2),(2000.0,1.4),(2001.0,2.0),(2001.8,2.7),(2002.3,1.5),(2003.0,1.0),(2004.0,1.2),(2005.0,1.5),(2005.7,2.0),(2006.5,2.5),(2008.0,2.6),(2009.0,2.7),(2010.0,2.2),(2010.5,2.5),(2011.5,2.0)]
WHEAT_12M_LO = [(1995.0,0.7),(1996.0,0.6),(1997.0,0.8),(1998.0,0.0),(1998.5,-0.8),(1999.5,-0.8),(2000.5,-0.5),(2001.5,0.0),(2002.3,-1.3),(2003.0,-0.5),(2004.0,-0.3),(2005.0,0.0),(2005.5,0.2),(2006.5,0.5),(2007.5,0.6),(2008.5,-0.2),(2009.5,-0.5),(2010.5,-0.3),(2011.5,-0.6),(2011.7,-0.9)]

# y-axis settings per panel: (tick values, axis range)
Y_AXES = [
    [([-10, -5, 0, 5], [-13.7, 8.4]), ([-5, 0, 5], [-5.4, 6.9]), ([-2, 0, 2, 4], [-3.8, 4.7])],
    [([-10, 0, 10], [-12.3, 12.6]), ([-10, 0, 10], [-12.0, 11.8]), ([-6, -4, -2, 0, 2], [-7.1, 3.8])],
    [([0, 5, 10], [-2.6, 11.7]), ([0, 2, 4, 6, 8], [-1.7, 9.8]), ([-2, 0, 2, 4, 6], [-2.5, 6.4])],
    [([-2, 0, 2], [-2.2, 3.7]), ([-2, 0, 2, 4], [-2.6, 4.25]), ([-2, 0, 2, 4], [-3.1, 5.1])],
    [([-4, -2, 0, 2, 4, 6], [-4.3, 6.8]), ([-2, 0, 2, 4], [-3.7, 5.0]), ([-1, 0, 1, 2, 3], [-1.6, 3.1])],
]

SERIES = [
    [(GOLD_3M_EST, GOLD_3M_LO, GOLD_3M_HI), (GOLD_6M_EST, GOLD_6M_LO, GOLD_6M_HI), (GOLD_12M_EST, GOLD_12M_LO, GOLD_12M_HI)],
    [(SILVER_3M_EST, SILVER_3M_LO, SILVER_3M_HI), (SILVER_6M_EST, SILVER_6M_LO, SILVER_6M_HI), (SILVER_12M_EST, SILVER_12M_LO, SILVER_12M_HI)],
    [(CORN_3M_EST, CORN_3M_LO, CORN_3M_HI), (CORN_6M_EST, CORN_6M_LO, CORN_6M_HI), (CORN_12M_EST, CORN_12M_LO, CORN_12M_HI)],
    [(SOY_3M_EST, SOY_3M_LO, SOY_3M_HI), (SOY_6M_EST, SOY_6M_LO, SOY_6M_HI), (SOY_12M_EST, SOY_12M_LO, SOY_12M_HI)],
    [(WHEAT_3M_EST, WHEAT_3M_LO, WHEAT_3M_HI), (WHEAT_6M_EST, WHEAT_6M_LO, WHEAT_6M_HI), (WHEAT_12M_EST, WHEAT_12M_LO, WHEAT_12M_HI)],
]

# ---------------- layout geometry (pixels) ----------------
W, H = 1162, 1002
COL_PX = [(96, 387), (480, 772), (865, 1157)]
ROW_PX = [(50, 189), (243, 383), (437, 576), (631, 770), (825, 965)]
FONT = dict(family="Liberation Sans, Arial, sans-serif", size=26, color="black")

fig = go.Figure()
layout = dict(
    template="none",
    width=W, height=H, margin=dict(l=0, r=0, t=0, b=0, pad=0, autoexpand=False),
    paper_bgcolor="white", plot_bgcolor="white", showlegend=False,
    font=FONT,
)
shapes, annotations = [], []

def xy(pairs):
    return [p[0] for p in pairs], [p[1] for p in pairs]

for r in range(5):
    for c in range(3):
        k = r * 3 + c + 1
        xa = "x" if k == 1 else f"x{k}"
        ya = "y" if k == 1 else f"y{k}"
        est, lo, hi = SERIES[r][c]
        for band in (hi, lo):
            bx, by = xy(band)
            fig.add_trace(go.Scatter(x=bx, y=by, mode="lines", xaxis=xa, yaxis=ya,
                                     line=dict(color="#0000FF", width=1, dash="7px,4px"),
                                     hoverinfo="skip"))
        ex, ey = xy(est)
        fig.add_trace(go.Scatter(x=ex, y=ey, mode="lines", xaxis=xa, yaxis=ya,
                                 line=dict(color="black", width=4.2), hoverinfo="skip"))
        x0, x1 = COL_PX[c]
        y0, y1 = ROW_PX[r]
        ticks_y, rng_y = Y_AXES[r][c]
        layout["xaxis" if k == 1 else f"xaxis{k}"] = dict(
            domain=[x0 / W, x1 / W], anchor=ya, range=X_RANGE, automargin=False,
            tickvals=X_TICKS, ticktext=[str(t) for t in X_TICKS],
            ticks="inside", ticklen=5, tickwidth=1, tickcolor="black",
            showline=True, linecolor="black", linewidth=1, mirror="allticks",
            showgrid=False, zeroline=False, tickfont=FONT, ticklabelstandoff=1,
        )
        layout["yaxis" if k == 1 else f"yaxis{k}"] = dict(
            domain=[1 - y1 / H, 1 - y0 / H], anchor=xa, range=rng_y, automargin=False,
            tickvals=ticks_y, ticktext=[str(t) for t in ticks_y],
            ticks="inside", ticklen=5, tickwidth=1, tickcolor="black",
            showline=True, linecolor="black", linewidth=1, mirror="allticks",
            showgrid=False, zeroline=False, tickfont=FONT, ticklabelstandoff=4,
        )
        shapes.append(dict(type="line", xref=f"{xa} domain", yref=ya,
                           x0=0, x1=1, y0=REF_LEVEL, y1=REF_LEVEL,
                           line=dict(color="#333333", width=1), layer="below"))

for c, title in enumerate(COLUMNS):
    x0, x1 = COL_PX[c]
    annotations.append(dict(text=title, xref="paper", yref="paper",
                            x=(x0 + x1) / 2 / W - 3 / W, y=1 - 20 / H, showarrow=False,
                            xanchor="center", yanchor="middle", font=FONT))
for r, name in enumerate(ROWS):
    y0, y1 = ROW_PX[r]
    annotations.append(dict(text=name, xref="paper", yref="paper",
                            x=19 / W, y=1 - (y0 + y1) / 2 / H, showarrow=False,
                            textangle=-90, xanchor="center", yanchor="middle", font=FONT))

layout["shapes"] = shapes
layout["annotations"] = annotations
fig.update_layout(**layout)
fig.write_html(
    "out.html",
    config={"displayModeBar": False, "staticPlot": True},
    post_script="document.body.style.margin='0px';document.body.style.overflow='hidden';",
)
